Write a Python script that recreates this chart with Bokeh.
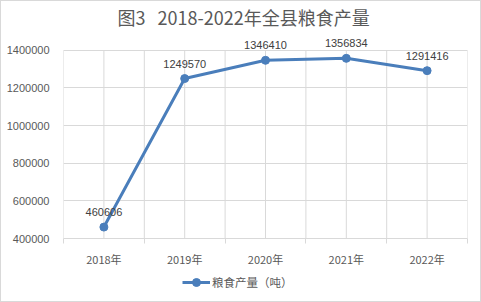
from bokeh.plotting import figure
from bokeh.layouts import column
from bokeh.models import (Range1d, FixedTicker, Legend, LegendItem, ColumnDataSource,
                          NumeralTickFormatter)
from bokeh.core.properties import value
from bokeh.embed import file_html
from bokeh.resources import INLINE

categories = ["2018年", "2019年", "2020年", "2021年", "2022年"]
production = [460606, 1249570, 1346410, 1356834, 1291416]
y_ticks = [400000, 600000, 800000, 1000000, 1200000, 1400000]
title_text = "图3\u00a0\u00a0\u00a02018-2022年全县粮食产量"
series_name = "粮食产量（吨）"

n = len(categories)
xs = [i + 0.5 for i in range(n)]
src = ColumnDataSource(dict(x=xs, y=production, label=[str(v) for v in production]))

FONT = "Noto Sans CJK SC"
BLUE = "#4A7EBB"
GRID = "#D9D9D9"
BORDER = "1px solid #D9D9D9"

# headroom above the top tick so the value labels are not clipped
y_top = y_ticks[-1] + 110000

p = figure(width=481, height=268, output_backend="svg", toolbar_location=None,
           x_range=Range1d(0, n), y_range=Range1d(y_ticks[0], y_top),
           min_border_left=62, min_border_right=15, min_border_top=2, min_border_bottom=28)
p.styles = {"border-top": BORDER, "border-left": BORDER, "border-right": BORDER,
            "box-sizing": "border-box"}
p.outline_line_color = None

p.title.text = title_text
p.title.align = "left"
p.title.offset = 54
p.title.text_font = FONT
p.title.text_font_size = "18px"
p.title.text_font_style = "normal"
p.title.text_color = "#595959"
p.title.standoff = 0

cat_ticker = FixedTicker(ticks=xs, minor_ticks=list(range(n + 1)))
p.xaxis.ticker = cat_ticker
p.xaxis.major_label_overrides = {x: c for x, c in zip(xs, categories)}
p.xaxis.major_tick_line_color = None
p.xaxis.major_tick_out = 0
p.xaxis.major_tick_in = 0
p.xaxis.minor_tick_in = 0
p.xaxis.minor_tick_out = 5
p.xaxis.minor_tick_line_color = GRID
p.xaxis.axis_line_color = GRID
p.xaxis.major_label_text_font = FONT
p.xaxis.major_label_text_font_size = "11px"
p.xaxis.major_label_text_color = "#595959"
p.xaxis.major_label_standoff = 7

# vertical gridlines at category centres and boundaries, only between the first and last y tick
grid_x = [i * 0.5 for i in range(2 * n + 1)]
p.xgrid.visible = False
p.segment(x0=grid_x, x1=grid_x, y0=[y_ticks[0]] * len(grid_x), y1=[y_ticks[-1]] * len(grid_x),
          line_color=GRID, line_width=1)

p.yaxis.ticker = FixedTicker(ticks=y_ticks)
p.yaxis.formatter = NumeralTickFormatter(format="0")
p.yaxis.axis_line_color = None
p.yaxis.major_tick_line_color = None
p.yaxis.minor_tick_line_color = None
p.yaxis.major_label_text_font = "Liberation Sans"
p.yaxis.major_label_text_font_size = "11px"
p.yaxis.major_label_text_color = "#595959"
p.yaxis.major_label_standoff = 8
p.ygrid.ticker = FixedTicker(ticks=y_ticks)
p.ygrid.grid_line_color = GRID

line = p.line("x", "y", source=src, line_color=BLUE, line_width=3)
pts = p.scatter("x", "y", source=src, size=8, fill_color=BLUE, line_color=BLUE)
p.text("x", "y", text="label", source=src, text_align="center", text_baseline="bottom",
       y_offset=-11, text_font=value("Liberation Sans"), text_font_size="11px",
       text_color="#404040")

# legend strip below the chart (its frame is aligned with the chart's frame by the column)
p2 = figure(width=481, height=34, output_backend="svg", toolbar_location=None,
            x_range=Range1d(0, 1), y_range=Range1d(0, 1),
            min_border=0, x_axis_type=None, y_axis_type=None)
p2.styles = {"border-bottom": BORDER, "border-left": BORDER, "border-right": BORDER,
             "box-sizing": "border-box"}
p2.outline_line_color = None
p2.grid.visible = False
off = ColumnDataSource(dict(x=[-5, -4], y=[-5, -5]))
l2 = p2.line("x", "y", source=off, line_color=BLUE, line_width=3)
s2 = p2.scatter("x", "y", source=off, size=7, fill_color=BLUE, line_color=BLUE)
legend = Legend(items=[LegendItem(label=series_name, renderers=[l2, s2])],
                location=(119, 10), orientation="horizontal",
                label_text_font=FONT, label_text_font_size="11.5px", label_text_color="#595959",
                border_line_color=None, background_fill_alpha=0, glyph_width=28,
                label_standoff=2, padding=0, margin=0)
p2.add_layout(legend, "center")

layout = column(p, p2, spacing=0)
open("out.html", "w").write(file_html(layout, INLINE))
